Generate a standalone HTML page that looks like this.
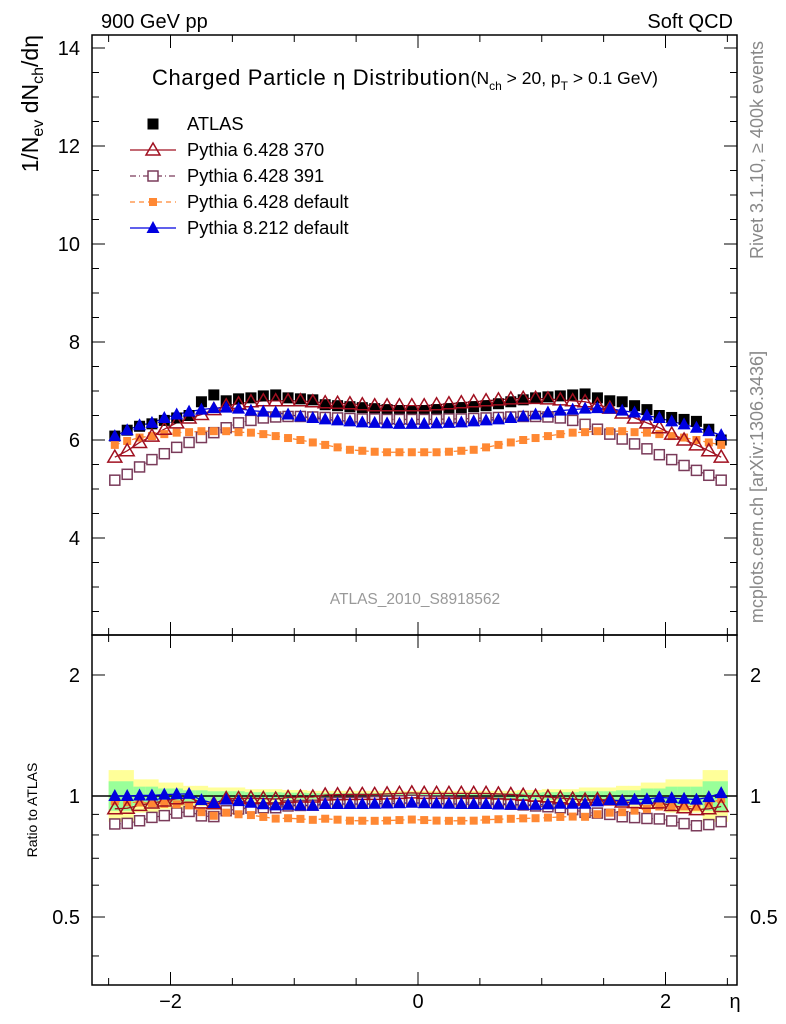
<!DOCTYPE html>
<html><head><meta charset="utf-8"><style>
html,body{margin:0;padding:0;background:#fff;}
svg{display:block;font-family:"Liberation Sans",sans-serif;}
</style></head><body>
<svg id="chart" width="786" height="1024" xmlns="http://www.w3.org/2000/svg">
<g id="bands"></g>
<g id="frames">
<rect x="92" y="35" width="645" height="600" fill="none" stroke="#000" stroke-width="1.5"/>
<rect x="92" y="635" width="645" height="350" fill="none" stroke="#000" stroke-width="1.5"/>
</g>
<g id="ticks"></g>
<g id="series"></g>
<text x="101" y="28" font-size="20">900 GeV pp</text>
<text x="733" y="28" font-size="20" text-anchor="end">Soft QCD</text>
<text x="152" y="85" font-size="22"><tspan textLength="318" lengthAdjust="spacing">Charged Particle η Distribution</tspan><tspan font-size="17.5" dy="-1">(N</tspan><tspan font-size="12" dy="6">ch</tspan><tspan font-size="17.5" dy="-6"> &gt; 20, p</tspan><tspan font-size="12" dy="6">T</tspan><tspan font-size="17.5" dy="-6"> &gt; 0.1 GeV)</tspan></text>
<text transform="translate(38,35) rotate(-90)" font-size="23" text-anchor="end">1/N<tspan font-size="16" dy="5">ev</tspan><tspan dy="-5"> dN</tspan><tspan font-size="16" dy="5">ch</tspan><tspan dy="-5">/dη</tspan></text>
<text transform="translate(37,810) rotate(-90)" font-size="14" text-anchor="middle">Ratio to ATLAS</text>
<text x="735" y="1008" font-size="20" text-anchor="middle">η</text>
<text x="415" y="604" font-size="15.5" fill="#999" text-anchor="middle">ATLAS_2010_S8918562</text>
<text transform="translate(763,150) rotate(-90)" font-size="18" fill="#888" text-anchor="middle">Rivet 3.1.10, ≥ 400k events</text>
<text transform="translate(763,487) rotate(-90)" font-size="18" fill="#888" text-anchor="middle">mcplots.cern.ch [arXiv:1306.3436]</text>
<g id="legend"></g>
</svg>
<script>
const eta = [];
for (let i = 0; i < 50; i++) eta.push(-2.45 + 0.1 * i);
const atlas = [6.08,6.2,6.28,6.33,6.4,6.45,6.5,6.78,6.92,6.8,6.84,6.86,6.9,6.92,6.86,6.84,6.82,6.72,6.7,6.68,6.66,6.64,6.62,6.6,6.58,6.6,6.62,6.64,6.66,6.68,6.7,6.74,6.78,6.82,6.86,6.88,6.9,6.92,6.94,6.86,6.8,6.78,6.7,6.62,6.5,6.46,6.42,6.38,6.22,6.0];
const atlasErr = [0.16,0.16,0.1,0.1,0.08,0.08,0.06,0.06,0.05,0.05,0.05,0.04,0.04,0.04,0.035,0.035,0.03,0.03,0.03,0.03,0.03,0.03,0.03,0.03,0.03,0.03,0.03,0.03,0.03,0.03,0.03,0.03,0.03,0.035,0.035,0.04,0.04,0.04,0.05,0.05,0.05,0.06,0.06,0.08,0.08,0.1,0.1,0.1,0.16,0.16];
const p370 = [5.65,5.78,5.95,6.08,6.22,6.35,6.45,6.52,6.62,6.7,6.74,6.78,6.8,6.8,6.8,6.8,6.78,6.76,6.75,6.74,6.72,6.7,6.7,6.7,6.7,6.7,6.72,6.74,6.76,6.78,6.8,6.82,6.84,6.85,6.85,6.84,6.82,6.8,6.78,6.72,6.65,6.55,6.45,6.35,6.25,6.12,6.0,5.9,5.78,5.65];
const p391 = [5.18,5.3,5.45,5.6,5.72,5.85,5.95,6.05,6.15,6.25,6.35,6.4,6.45,6.47,6.48,6.48,6.47,6.46,6.45,6.44,6.43,6.43,6.42,6.42,6.42,6.42,6.42,6.43,6.43,6.44,6.45,6.46,6.47,6.48,6.48,6.47,6.45,6.4,6.32,6.22,6.12,6.02,5.92,5.82,5.7,5.6,5.48,5.38,5.28,5.18];
const pdef = [5.9,5.98,6.05,6.08,6.12,6.15,6.16,6.18,6.18,6.18,6.16,6.15,6.12,6.08,6.04,6.0,5.95,5.9,5.85,5.8,5.78,5.76,5.75,5.75,5.75,5.75,5.75,5.76,5.78,5.8,5.85,5.9,5.95,6.0,6.04,6.08,6.12,6.15,6.16,6.18,6.18,6.18,6.16,6.15,6.12,6.08,6.05,6.0,5.95,5.9];
const p8 = [6.08,6.2,6.3,6.35,6.45,6.52,6.58,6.62,6.65,6.66,6.64,6.6,6.58,6.56,6.52,6.48,6.45,6.42,6.4,6.38,6.36,6.35,6.34,6.33,6.33,6.33,6.34,6.35,6.36,6.38,6.4,6.42,6.45,6.48,6.52,6.56,6.6,6.62,6.64,6.65,6.64,6.6,6.56,6.5,6.45,6.38,6.32,6.25,6.18,6.1];
const mainTicks = [4,6,8,10,12,14];
const ratioTicks = [0.5,1,2];
const xTicks = [-2,0,2];

const NS = "http://www.w3.org/2000/svg";
const X = v => 418 + v * 123.75;
const Y = v => 440 - (v - 6) * 49;
const R = v => 796 - Math.log10(v) * 402;
function mk(tag, attrs, parent) {
  const e = document.createElementNS(NS, tag);
  for (const k in attrs) e.setAttribute(k, attrs[k]);
  document.getElementById(parent).appendChild(e);
  return e;
}
const bw = 0.1 * 123.75;
eta.forEach((e, i) => {
  const x0 = X(e) - bw / 2;
  const y1 = mk('rect', {x: x0, y: R(1 + atlasErr[i]), width: bw + 0.5, height: R(1 / (1 + atlasErr[i])) - R(1 + atlasErr[i]), fill: '#ffff99'}, 'bands');
  
  
  const g = atlasErr[i] * 0.55;
  const y2 = mk('rect', {x: x0, y: R(1 + g), width: bw + 0.5, height: R(1 / (1 + g)) - R(1 + g), fill: '#99ff99'}, 'bands');
  
  
});
mainTicks.forEach(t => {
  const l = mk('text', {x: 80, y: Y(t) + 7, 'font-size': 20, 'text-anchor': 'end'}, 'ticks');
  l.textContent = t;
  
  
});
for (let v = 2.5; v <= 14.2; v += 0.5) {
  const major = Math.abs(v - Math.round(v / 2) * 2) < 1e-6;
  const len = major ? 13 : 7;
  mk('line', {x1: 92, x2: 92 + len, y1: Y(v), y2: Y(v), stroke: '#000'}, 'ticks');
  mk('line', {x1: 737, x2: 737 - len, y1: Y(v), y2: Y(v), stroke: '#000'}, 'ticks');
}
[0.4,0.5,0.6,0.7,0.8,0.9,1,2].forEach(t => {
  const major = ratioTicks.includes(t);
  const len = major ? 13 : 7;
  mk('line', {x1: 92, x2: 92 + len, y1: R(t), y2: R(t), stroke: '#000'}, 'ticks');
  mk('line', {x1: 737, x2: 737 - len, y1: R(t), y2: R(t), stroke: '#000'}, 'ticks');
});
ratioTicks.forEach(t => {
  const l = mk('text', {x: 80, y: R(t) + 7, 'font-size': 20, 'text-anchor': 'end'}, 'ticks');
  l.textContent = t;
  
  
  const r = mk('text', {x: 750, y: R(t) + 7, 'font-size': 20}, 'ticks');
  r.textContent = t;
  
  
});
for (let v = -2.5; v <= 2.51; v += 0.5) {
  const major = xTicks.some(t => Math.abs(t - v) < 1e-6);
  const len = major ? 13 : 7;
  [35, 635].forEach(yt => mk('line', {x1: X(v), x2: X(v), y1: yt, y2: yt + len, stroke: '#000'}, 'ticks'));
  [635, 985].forEach(yb => mk('line', {x1: X(v), x2: X(v), y1: yb, y2: yb - len, stroke: '#000'}, 'ticks'));
}
xTicks.forEach(t => {
  const l = mk('text', {x: X(t), y: 1008, 'font-size': 20, 'text-anchor': 'middle'}, 'ticks');
  l.textContent = t < 0 ? '\u2212' + Math.abs(t) : t;
  
  
});
const one = mk('line', {x1: 92, x2: 737, y1: R(1), y2: R(1), stroke: '#000', 'stroke-width': 1.5}, 'ticks');



function marker(kind, color, x, y, parent, name) {
  let e;
  if (kind === 'sq') e = mk('rect', {x: x - 5.5, y: y - 5.5, width: 11, height: 11, fill: color}, parent);
  else if (kind === 'osq') e = mk('rect', {x: x - 5, y: y - 5, width: 10, height: 10, fill: '#fff', stroke: color, 'stroke-width': 1.5}, parent);
  else if (kind === 'ssq') e = mk('rect', {x: x - 4, y: y - 4, width: 8, height: 8, fill: color}, parent);
  else if (kind === 'otri') e = mk('polygon', {points: `${x},${y-7} ${x-7},${y+5} ${x+7},${y+5}`, fill: 'none', stroke: color, 'stroke-width': 1.5}, parent);
  else e = mk('polygon', {points: `${x},${y-7} ${x-6.5},${y+5} ${x+6.5},${y+5}`, fill: color}, parent);
  
  
}
const series = [
  {d: p391, c: '#7a3b5a', k: 'osq', dash: '6,3,1,3', n: 'pythia-6428-391'},
  {d: pdef, c: '#ff8833', k: 'ssq', dash: '5,4', n: 'pythia-6428-default'},
  {d: p370, c: '#a01020', k: 'otri', dash: '', n: 'pythia-6428-370'},
  {d: p8, c: '#0000e0', k: 'tri', dash: '', n: 'pythia-8212-default'}
];
series.forEach(s => {
  const pm = eta.map((e, i) => `${X(e)},${Y(s.d[i])}`).join(' ');
  const pl = mk('polyline', {points: pm, fill: 'none', stroke: s.c, 'stroke-width': 1.3, 'stroke-dasharray': s.dash}, 'series');
  
  
  const pr = eta.map((e, i) => `${X(e)},${R(s.d[i] / atlas[i])}`).join(' ');
  const rl = mk('polyline', {points: pr, fill: 'none', stroke: s.c, 'stroke-width': 1.3, 'stroke-dasharray': s.dash}, 'series');
  
  
});
eta.forEach((e, i) => marker('sq', '#000', X(e), Y(atlas[i]), 'series', 'atlas-point'));
series.forEach(s => {
  eta.forEach((e, i) => {
    marker(s.k, s.c, X(e), Y(s.d[i]), 'series', s.n + '-point');
    marker(s.k, s.c, X(e), R(s.d[i] / atlas[i]), 'series', s.n + '-ratio-point');
  });
});
const leg = [
  {t: 'ATLAS', k: 'sq', c: '#000', dash: null},
  {t: 'Pythia 6.428 370', k: 'otri', c: '#a01020', dash: ''},
  {t: 'Pythia 6.428 391', k: 'osq', c: '#7a3b5a', dash: '6,3,1,3'},
  {t: 'Pythia 6.428 default', k: 'ssq', c: '#ff8833', dash: '5,4'},
  {t: 'Pythia 8.212 default', k: 'tri', c: '#0000e0', dash: ''}
];
leg.forEach((l, i) => {
  const y = 124 + i * 26;
  if (l.dash !== null) {
    const ln = mk('line', {x1: 130, x2: 176, y1: y, y2: y, stroke: l.c, 'stroke-width': 1.3, 'stroke-dasharray': l.dash}, 'legend');
    
    
  }
  marker(l.k, l.c, 153, y, 'legend', 'legend-marker');
  const t = mk('text', {x: 187, y: y + 6, 'font-size': 18.3}, 'legend');
  t.textContent = l.t;
  
  
});
</script>
</body></html>
